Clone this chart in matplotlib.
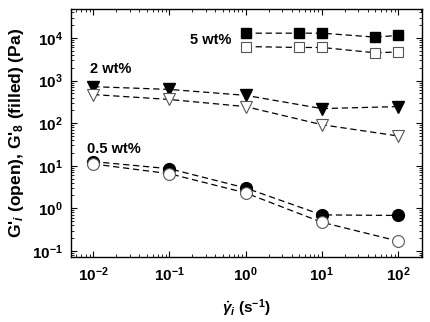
import numpy as np
import matplotlib.pyplot as plt
from matplotlib.ticker import LogLocator, NullFormatter, FuncFormatter

plt.rcParams['font.family'] = ['Liberation Sans', 'DejaVu Sans']
plt.rcParams['mathtext.fontset'] = 'custom'
plt.rcParams['mathtext.rm'] = 'Liberation Sans:bold'
plt.rcParams['mathtext.it'] = 'Liberation Sans:bold:italic'
plt.rcParams['mathtext.bf'] = 'Liberation Sans:bold'
plt.rcParams['axes.unicode_minus'] = False

# 5 wt%
rate_5 = [1, 5, 10, 50, 100]
g_inf_5 = [13000, 13000, 13000, 10500, 11500]
g_i_5 = [6300, 6000, 6000, 4500, 4700]

# 2 wt%
rate_2 = [0.01, 0.1, 1, 10, 100]
g_inf_2 = [720, 620, 450, 220, 245]
g_i_2 = [470, 360, 245, 92, 50]

# 0.5 wt%
rate_05 = [0.01, 0.1, 1, 10, 100]
g_inf_05 = [12.5, 8.5, 3.0, 0.70, 0.68]
g_i_05 = [11.0, 6.5, 2.3, 0.47, 0.17]

fig = plt.figure(figsize=(4.30, 3.22), dpi=100)
ax = fig.add_axes([0.165, 0.202, 0.816, 0.770])

dash = dict(color='black', ls=(0, (5, 3)), lw=0.9)
ax.plot(rate_5, g_inf_5, marker='s', ms=7, mfc='black', mec='black', **dash)
ax.plot(rate_5, g_i_5, marker='s', ms=7, mfc='white', mec='#555555', mew=0.8, **dash)
ax.plot(rate_2, g_inf_2, marker='v', ms=8, mfc='black', mec='black', **dash)
ax.plot(rate_2, g_i_2, marker='v', ms=8, mfc='white', mec='#555555', mew=0.8, **dash)
ax.plot(rate_05, g_inf_05, marker='o', ms=8.5, mfc='black', mec='black', **dash)
ax.plot(rate_05, g_i_05, marker='o', ms=8.5, mfc='white', mec='#555555', mew=0.8, **dash)

ax.set_xscale('log')
ax.set_yscale('log')
ax.set_xlim(0.0051, 205)
ax.set_ylim(0.072, 48000)

def pow10(v, pos):
    return r'$10^{%d}$' % int(round(np.log10(v)))

ax.xaxis.set_major_locator(LogLocator(base=10, numticks=10))
ax.yaxis.set_major_locator(LogLocator(base=10, numticks=10))
ax.xaxis.set_major_formatter(FuncFormatter(pow10))
ax.yaxis.set_major_formatter(FuncFormatter(pow10))
ax.xaxis.set_minor_locator(LogLocator(base=10, subs=np.arange(2, 10), numticks=20))
ax.yaxis.set_minor_locator(LogLocator(base=10, subs=np.arange(2, 10), numticks=20))
ax.xaxis.set_minor_formatter(NullFormatter())
ax.yaxis.set_minor_formatter(NullFormatter())
ax.tick_params(which='both', direction='in', top=True, right=True)
ax.tick_params(which='major', length=4, width=0.8, labelsize=11, pad=6)
ax.tick_params(which='minor', length=2, width=0.6)
for sp in ax.spines.values():
    sp.set_linewidth(1.0)

ax.text(0.34, 0.86, '5 wt%', transform=ax.transAxes, fontsize=10.5, fontweight='bold')
ax.text(0.055, 0.74, '2 wt%', transform=ax.transAxes, fontsize=10.5, fontweight='bold')
ax.text(0.046, 0.42, '0.5 wt%', transform=ax.transAxes, fontsize=10.5, fontweight='bold')

ax.set_xlabel(r'$\dot{\gamma}_i$ (s$^{-1}$)', fontsize=11, fontweight='bold', labelpad=10)
ax.set_ylabel(r"G'$_i$ (open), G'$_8$ (filled) (Pa)", fontsize=12.5, fontweight='bold', labelpad=4)

fig.savefig('out.png', dpi=100)
